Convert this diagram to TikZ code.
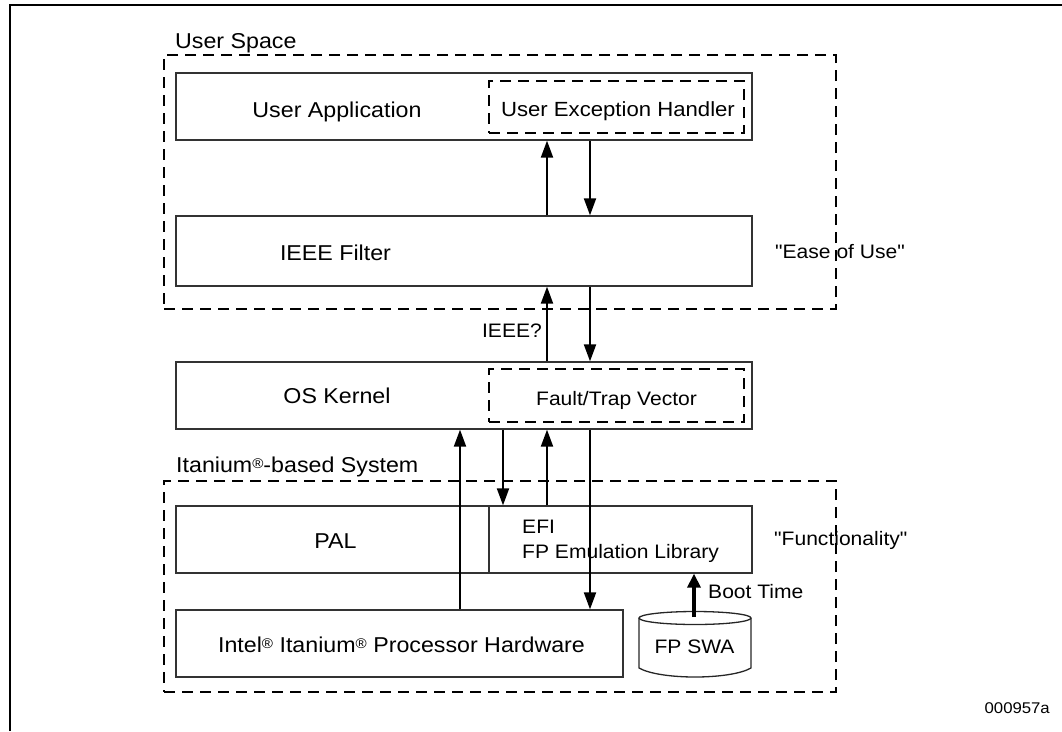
\documentclass[tikz,border=0pt]{standalone}
\usepackage{fontspec}
\setmainfont{Liberation Sans}[FakeStretch=1.08, Ligatures=TeXOff]
\usetikzlibrary{arrows.meta}
\newcommand{\regmark}{\raisebox{3.5pt}{\fontsize{14}{14}\selectfont ®}}
\begin{document}
\begin{tikzpicture}[x=1pt,y=-1pt,
  box/.style={draw=black!80, line width=1.3pt, inner sep=0pt},
  dbox/.style={draw=black, line width=2pt, dash pattern=on 11pt off 7pt, inner sep=0pt},
  big/.style={inner sep=0pt, font=\fontsize{21.5}{24}\selectfont},
  small/.style={inner sep=0pt, font=\fontsize{19.5}{22}\selectfont},
  arr/.style={line width=2pt, -{Triangle[length=17pt,width=12pt]}},
  bootarr/.style={line width=4.5pt, -{Triangle[length=14pt,width=13pt]}}]
\useasboundingbox (0,0) rectangle (1062,731);
% outer frame
\draw[line width=2pt] (10,731) -- (10,5) -- (1062,5);
% columns for connectors
\coordinate (cA) at (460,0);
\coordinate (cB) at (503,0);
\coordinate (cC) at (547,0);
\coordinate (cD) at (590,0);
% group frames
\node[dbox, minimum width=672pt, minimum height=254pt] (us) at (500,182) {};
\node[dbox, minimum width=672pt, minimum height=211pt] (its) at (500,586.5) {};
\node[big, anchor=base west] (uslabel) at (175,48) {User Space};
\node[big, anchor=base west] (itslabel) at (176,472) {Itanium\regmark-based System};
% boxes
\node[box, minimum width=576pt, minimum height=67pt] (ua) at (464,106.5) {};
\node[dbox, minimum width=255pt, minimum height=52pt] (ueh) at (616.5,107) {};
\node[box, minimum width=576pt, minimum height=70pt] (ieee) at (464,251) {};
\node[box, minimum width=576pt, minimum height=67pt] (os) at (464,395.5) {};
\node[dbox, minimum width=255pt, minimum height=53pt] (ftv) at (616.5,395.5) {};
\node[box, minimum width=313pt, minimum height=67pt] (pal) at (332.5,539.5) {};
\node[box, minimum width=263pt, minimum height=67pt] (efi) at (620.5,539.5) {};
\node[box, minimum width=447pt, minimum height=67pt] (hw) at (399.5,643.5) {};
% cylinder FP SWA
\draw[black!85, line width=1.3pt] (639,618) -- (639,668) .. controls (660,680) and (730,680) .. (751,668) -- (751,618);
\draw[black!85, line width=1.3pt] (695,618) ellipse (56pt and 6.5pt);
\coordinate (swatop) at (694,617);
% texts
\node[big, anchor=base] (tua) at (337,117) {User Application};
\node[small, anchor=base, font=\fontsize{20.5}{23}\selectfont] (tueh) at (618,116) {User Exception Handler};
\node[big, anchor=base] (tieee) at (335.5,260) {IEEE Filter};
\node[big, anchor=base] (tos) at (337,403) {OS Kernel};
\node[small, anchor=base] (tftv) at (616.5,405) {Fault/Trap Vector};
\node[big, anchor=base] (tpal) at (335.5,548) {PAL};
\node[small, anchor=base west] (tefi) at (522,533) {EFI};
\node[small, anchor=base west] (tfpe) at (522,558) {FP Emulation Library};
\node[big, anchor=base] (thw) at (401.5,652) {Intel\regmark{} Itanium\regmark{} Processor Hardware};
\node[small, anchor=base] (tswa) at (694.5,653) {FP SWA};
\node[small, anchor=base west] (tboot) at (708,598) {Boot Time};
\node[small, anchor=base west] (tease) at (775,258) {"Ease of Use"};
\node[small, anchor=base west] (tfunc) at (774,545) {"Functionality"};
\node[small, anchor=base east] (tq) at (542,337) {IEEE?};
\node[inner sep=0pt, anchor=base east, font=\fontsize{15.5}{18}\selectfont] (tid) at (1050,713) {000957a};
% connectors
\draw[arr] (cC |- ieee.north) -- (cC |- ua.south);
\draw[arr] (cD |- ua.south) -- (cD |- ieee.north);
\draw[arr] (cC |- os.north) -- (cC |- ieee.south);
\draw[arr] (cD |- ieee.south) -- (cD |- os.north);
\draw[arr] (cA |- hw.north) -- (cA |- os.south);
\draw[arr] (cB |- os.south) -- (cB |- efi.north);
\draw[arr] (cC |- efi.north) -- (cC |- os.south);
\draw[arr] (cD |- os.south) -- (cD |- hw.north);
\draw[bootarr] (swatop) -- (swatop |- efi.south);
\end{tikzpicture}
\end{document}
